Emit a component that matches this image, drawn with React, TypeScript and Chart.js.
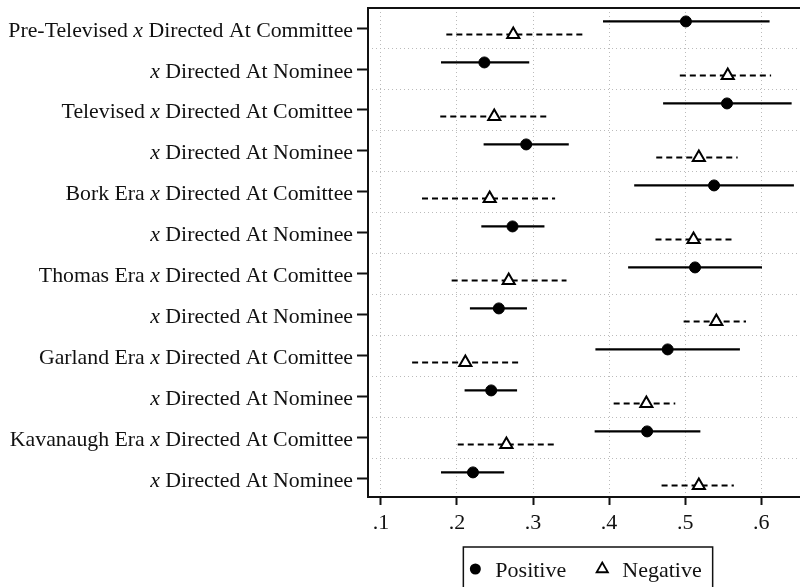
import React, { useEffect, useRef } from 'react';
import { Chart, registerables } from 'chart.js';

Chart.register(...registerables);

// ---- Data ----
const rowPrefixes = [
  'Pre-Televised ', '', 'Televised ', '', 'Bork Era ', '',
  'Thomas Era ', '', 'Garland Era ', '', 'Kavanaugh Era ', '',
];
const rowItalic = ['x', 'x', 'x', 'x', 'x', 'x', 'x', 'x', 'x', 'x', 'x', 'x'];
const rowSuffixes = [
  ' Directed At Committee', ' Directed At Nominee',
  ' Directed At Comittee', ' Directed At Nominee',
  ' Directed At Comittee', ' Directed At Nominee',
  ' Directed At Comittee', ' Directed At Nominee',
  ' Directed At Comittee', ' Directed At Nominee',
  ' Directed At Comittee', ' Directed At Nominee',
];
const rows = [0, 1, 2, 3, 4, 5, 6, 7, 8, 9, 10, 11];
const xTickValues = [0.1, 0.2, 0.3, 0.4, 0.5, 0.6];
const seriesLabels = ['Positive', 'Negative'];

const posEst = [0.501, 0.236, 0.555, 0.291, 0.538, 0.273, 0.513, 0.255, 0.477, 0.245, 0.450, 0.221];
const posLo = [0.392, 0.179, 0.471, 0.235, 0.433, 0.232, 0.425, 0.217, 0.382, 0.210, 0.381, 0.179];
const posHi = [0.611, 0.295, 0.640, 0.347, 0.643, 0.315, 0.601, 0.292, 0.572, 0.279, 0.520, 0.262];

const negEst = [0.274, 0.556, 0.249, 0.518, 0.243, 0.511, 0.268, 0.541, 0.211, 0.449, 0.265, 0.518];
const negLo = [0.186, 0.493, 0.178, 0.462, 0.154, 0.461, 0.193, 0.498, 0.141, 0.406, 0.201, 0.469];
const negHi = [0.365, 0.613, 0.321, 0.569, 0.329, 0.561, 0.344, 0.580, 0.283, 0.487, 0.329, 0.564];

const POS_SHIFT = -0.16;
const NEG_SHIFT = 0.16;
const FONT = '"Liberation Serif", "Times New Roman", serif';
const LABEL_SIZE = 21.8;

const rowLabelPlugin = {
  id: 'rowLabels',
  afterDraw(chart: any) {
    const ctx = chart.ctx;
    const scale = chart.scales.y;
    const xr = scale.right - 15;
    ctx.save();
    ctx.fillStyle = '#111';
    ctx.textAlign = 'right';
    ctx.textBaseline = 'alphabetic';
    rows.forEach((r) => {
      const y = scale.getPixelForValue(r) + 8.5;
      ctx.font = `${LABEL_SIZE}px ${FONT}`;
      ctx.fillText(rowSuffixes[r], xr, y);
      const w1 = ctx.measureText(rowSuffixes[r]).width;
      ctx.font = `italic ${LABEL_SIZE}px ${FONT}`;
      ctx.fillText(rowItalic[r], xr - w1, y);
      const w2 = ctx.measureText(rowItalic[r]).width;
      ctx.font = `${LABEL_SIZE}px ${FONT}`;
      if (rowPrefixes[r]) ctx.fillText(rowPrefixes[r], xr - w1 - w2, y);
    });
    ctx.restore();
  },
};

const framePlugin = {
  id: 'frameTop',
  afterDraw(chart: any) {
    const { ctx, chartArea } = chart;
    ctx.save();
    ctx.strokeStyle = '#111';
    ctx.lineWidth = 2;
    ctx.beginPath();
    ctx.moveTo(chartArea.left - 1, chartArea.top);
    ctx.lineTo(chartArea.right, chartArea.top);
    ctx.stroke();
    ctx.restore();
  },
};

const legendPlugin = {
  id: 'boxLegend',
  afterDraw(chart: any) {
    const { ctx, chartArea } = chart;
    ctx.save();
    ctx.font = `22px ${FONT}`;
    const wPos = ctx.measureText(seriesLabels[0]).width;
    const wNeg = ctx.measureText(seriesLabels[1]).width;
    const padL = 12, markGap = 20, itemGap = 36, padR = 11;
    const boxW = padL + markGap + wPos + itemGap + markGap + wNeg + padR;
    const cx = (chartArea.left + chartArea.right) / 2 + 4;
    const left = cx - boxW / 2;
    const top = chartArea.bottom + 50;
    const cy = top + 22;
    ctx.strokeStyle = '#111';
    ctx.lineWidth = 1.5;
    ctx.strokeRect(left, top, boxW, 60);
    const m1 = left + padL;
    ctx.fillStyle = '#000';
    ctx.beginPath();
    ctx.arc(m1, cy, 5.5, 0, Math.PI * 2);
    ctx.fill();
    ctx.fillStyle = '#111';
    ctx.textAlign = 'left';
    ctx.textBaseline = 'alphabetic';
    ctx.fillText(seriesLabels[0], m1 + markGap, cy + 7.5);
    const m2 = m1 + markGap + wPos + itemGap;
    const r = 6.5;
    ctx.beginPath();
    ctx.moveTo(m2, cy - r);
    ctx.lineTo(m2 + r * 0.866, cy + r / 2);
    ctx.lineTo(m2 - r * 0.866, cy + r / 2);
    ctx.closePath();
    ctx.fillStyle = '#fff';
    ctx.fill();
    ctx.lineWidth = 1.8;
    ctx.strokeStyle = '#000';
    ctx.stroke();
    ctx.fillStyle = '#111';
    ctx.fillText(seriesLabels[1], m2 + markGap, cy + 7.5);
    ctx.restore();
  },
};

export default function App() {
  const ref = useRef<HTMLCanvasElement>(null);

  useEffect(() => {
    document.body.style.margin = '0';
    const canvas = ref.current;
    if (!canvas) return;

    const ciPos = rows.map((r) => ({
      type: 'scatter' as const,
      label: '',
      data: [
        { x: posLo[r], y: r + POS_SHIFT },
        { x: posHi[r], y: r + POS_SHIFT },
      ],
      showLine: true,
      borderColor: '#000',
      borderWidth: 2.2,
      pointRadius: 0,
      order: 2,
    }));
    const ciNeg = rows.map((r) => ({
      type: 'scatter' as const,
      label: '',
      data: [
        { x: negLo[r], y: r + NEG_SHIFT },
        { x: negHi[r], y: r + NEG_SHIFT },
      ],
      showLine: true,
      borderColor: '#000',
      borderWidth: 2,
      borderDash: [6, 4],
      pointRadius: 0,
      order: 2,
    }));

    const chart = new Chart(canvas, {
      type: 'scatter',
      data: {
        datasets: [
          ...ciPos,
          ...ciNeg,
          {
            label: seriesLabels[0],
            data: rows.map((r) => ({ x: posEst[r], y: r + POS_SHIFT })),
            pointStyle: 'circle',
            pointRadius: 5.5,
            pointBorderWidth: 1,
            backgroundColor: '#000',
            borderColor: '#000',
            order: 0,
          },
          {
            label: seriesLabels[1],
            data: rows.map((r) => ({ x: negEst[r], y: r + NEG_SHIFT })),
            pointStyle: 'triangle',
            pointRadius: 7,
            pointBorderWidth: 2,
            backgroundColor: '#fff',
            borderColor: '#000',
            order: 0,
          },
        ],
      },
      options: {
        responsive: false,
        animation: false,
        events: [],
        layout: { autoPadding: false, padding: { top: 8, right: 0, left: 0, bottom: 0 } },
        plugins: {
          legend: { display: false },
          tooltip: { enabled: false },
        },
        scales: {
          x: {
            type: 'linear',
            min: 0.083,
            max: 0.651,
            afterBuildTicks: (s: any) => {
              s.ticks = xTickValues.map((v) => ({ value: v }));
            },
            afterFit: (s: any) => {
              s.height = 90;
            },
            ticks: {
              color: '#111',
              font: { family: FONT, size: 22 },
              padding: 5,
              maxRotation: 0,
              callback: (v: any) => Number(v).toFixed(1).replace(/^0/, ''),
            },
            grid: {
              color: '#bbb',
              lineWidth: 1,
              tickColor: '#111',
              tickLength: 8,
              tickWidth: 2,
            },
            border: { display: true, color: '#111', width: 2, dash: [1, 3] },
          },
          y: {
            type: 'linear',
            reverse: true,
            min: -0.488,
            max: 11.44,
            position: 'left',
            afterBuildTicks: (s: any) => {
              s.ticks = rows.map((v) => ({ value: v }));
            },
            afterFit: (s: any) => {
              s.width = 368;
            },
            ticks: { display: false },
            grid: {
              color: 'rgba(0,0,0,0)',
              tickColor: '#111',
              tickLength: 11,
              tickWidth: 2,
            },
            border: { display: true, color: '#111', width: 2 },
          },
          y2: {
            type: 'linear',
            reverse: true,
            min: -0.488,
            max: 11.44,
            position: 'left',
            afterBuildTicks: (s: any) => {
              s.ticks = rows.slice(0, 11).map((v) => ({ value: v + 0.5 }));
            },
            afterFit: (s: any) => {
              s.width = 0;
            },
            ticks: { display: false },
            grid: { color: '#bbb', lineWidth: 1, drawTicks: false },
            border: { display: false, dash: [1, 3] },
          },
        },
      },
      plugins: [rowLabelPlugin, framePlugin, legendPlugin],
    } as any);

    return () => chart.destroy();
  }, []);

  return (
    <div style={{ width: 800, height: 587 }}>
      <canvas ref={ref} width={800} height={587} style={{ display: 'block' }} />
    </div>
  );
}
